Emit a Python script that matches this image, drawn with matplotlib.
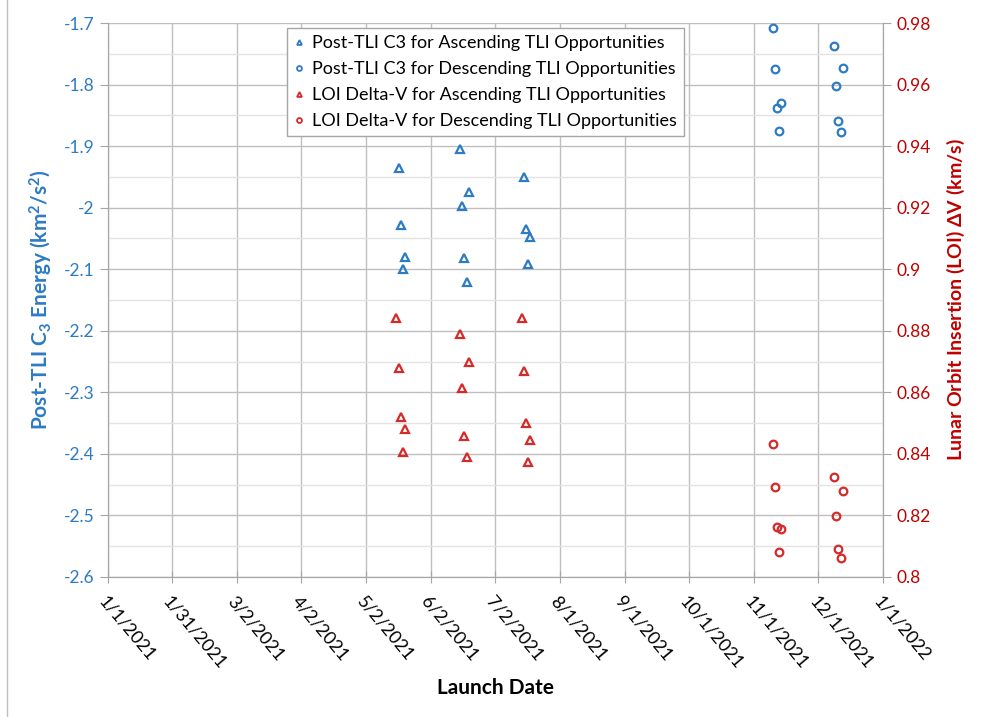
import numpy as np
import matplotlib
matplotlib.use('Agg')
import matplotlib.pyplot as plt
import matplotlib.dates as mdates
from matplotlib.lines import Line2D

plt.rcParams['font.family'] = ['Lato', 'DejaVu Sans']
plt.rcParams['mathtext.fontset'] = 'custom'
plt.rcParams['mathtext.rm'] = 'Lato'
plt.rcParams['mathtext.bf'] = 'Lato:bold'
plt.rcParams['mathtext.default'] = 'regular'

# launch dates (ascending / descending windows)
asc_dates_c3 = ['2021-05-18', '2021-05-19', '2021-05-20', '2021-05-21',
                '2021-06-16', '2021-06-17', '2021-06-18', '2021-06-19', '2021-06-20',
                '2021-07-16', '2021-07-17', '2021-07-18', '2021-07-19']
asc_c3 = [-1.936, -2.028, -2.099, -2.080,
          -1.905, -1.998, -2.081, -2.120, -1.975,
          -1.950, -2.034, -2.092, -2.048]

asc_dates_loi = ['2021-05-17', '2021-05-18', '2021-05-19', '2021-05-20', '2021-05-21',
                 '2021-06-16', '2021-06-17', '2021-06-18', '2021-06-19', '2021-06-20',
                 '2021-07-15', '2021-07-16', '2021-07-17', '2021-07-18', '2021-07-19']
asc_loi = [0.8841, 0.8678, 0.8521, 0.8405, 0.8481,
           0.8790, 0.8615, 0.8459, 0.8391, 0.8698,
           0.8843, 0.8670, 0.8499, 0.8373, 0.8445]

desc_dates = ['2021-11-10', '2021-11-11', '2021-11-12', '2021-11-13', '2021-11-14',
              '2021-12-09', '2021-12-10', '2021-12-11', '2021-12-12', '2021-12-13']
desc_c3 = [-1.708, -1.775, -1.838, -1.875, -1.830,
           -1.737, -1.803, -1.859, -1.877, -1.773]
desc_loi = [0.8431, 0.8293, 0.8163, 0.8080, 0.8157,
            0.8325, 0.8199, 0.8092, 0.8063, 0.8278]

tick_labels = ['1/1/2021', '1/31/2021', '3/2/2021', '4/2/2021', '5/2/2021',
               '6/2/2021', '7/2/2021', '8/1/2021', '9/1/2021', '10/1/2021',
               '11/1/2021', '12/1/2021', '1/1/2022']

blue = '#2E7BC4'
red = '#C00000'
mred = '#D42A2A'
grid_major = '#BFBFBF'
grid_minor = '#E3E3E3'


def to_num(ds):
    return mdates.date2num(np.array(ds, dtype='datetime64[D]'))


fig = plt.figure(figsize=(9.81, 7.17), dpi=100)
ax = fig.add_axes([0.1096, 0.1953, 0.7905, 0.7726])
ax2 = ax.twinx()

x0 = mdates.date2num(np.datetime64('2021-01-01'))
x1 = mdates.date2num(np.datetime64('2022-01-01'))
ax.set_xlim(x0, x1)
xt = x0 + np.arange(13) * (x1 - x0) / 12
ax.set_xticks(xt)
ax.set_xticklabels(tick_labels, rotation=-50, ha='left', va='top',
                   rotation_mode='anchor', fontsize=13)

ax.set_ylim(-2.6, -1.7)
ax.set_yticks(np.arange(-2.6, -1.65, 0.1))
ax.set_yticklabels(['-2.6', '-2.5', '-2.4', '-2.3', '-2.2', '-2.1', '-2', '-1.9', '-1.8', '-1.7'])
ax.set_yticks(np.arange(-2.55, -1.7, 0.1), minor=True)
ax2.set_ylim(0.8, 0.98)
ax2.set_yticks(np.arange(0.8, 0.981, 0.02))
ax2.set_yticklabels(['0.8', '0.82', '0.84', '0.86', '0.88', '0.9', '0.92', '0.94', '0.96', '0.98'])

ax.grid(True, which='major', color=grid_major, linewidth=1)
ax.grid(True, which='minor', axis='y', color=grid_minor, linewidth=1)
ax.set_axisbelow(True)

for a in (ax, ax2):
    a.spines['top'].set_visible(False)
    for s in ('left', 'right', 'bottom'):
        a.spines[s].set_color('#A6A6A6')
ax.tick_params(axis='y', which='major', colors=blue, labelsize=12.5, length=6, color='#A6A6A6')
ax.tick_params(axis='y', which='minor', length=0)
ax.tick_params(axis='x', direction='inout', length=8, color='#A6A6A6', labelsize=13, pad=8)
ax2.tick_params(axis='y', colors=red, labelsize=12.5, length=6, color='#A6A6A6')

ms = 5.5
ax.plot(to_num(asc_dates_c3), asc_c3, '^', ms=ms, mfc='none', mec=blue, mew=1.6, ls='none')
ax.plot(to_num(desc_dates), desc_c3, 'o', ms=ms, mfc='none', mec=blue, mew=1.6, ls='none')
ax2.plot(to_num(asc_dates_loi), asc_loi, '^', ms=ms, mfc='none', mec=mred, mew=1.6, ls='none')
ax2.plot(to_num(desc_dates), desc_loi, 'o', ms=ms, mfc='none', mec=mred, mew=1.6, ls='none')

ax.set_ylabel('Post-TLI C$_3$ Energy (km$^2$/s$^2$)', color=blue, fontsize=15,
              fontweight='bold', labelpad=6)
ax2.set_ylabel('Lunar Orbit Insertion (LOI) $\\Delta$V (km/s)', color=red, fontsize=14,
               fontweight='bold', labelpad=10)
ax.set_xlabel('Launch Date', fontsize=15, fontweight='bold', labelpad=4)

handles = [
    Line2D([], [], marker='^', ls='none', ms=3.5, mfc='none', mec=blue, mew=1.3),
    Line2D([], [], marker='o', ls='none', ms=3.5, mfc='none', mec=blue, mew=1.3),
    Line2D([], [], marker='^', ls='none', ms=3.5, mfc='none', mec=mred, mew=1.3),
    Line2D([], [], marker='o', ls='none', ms=3.5, mfc='none', mec=mred, mew=1.3),
]
labels = ['Post-TLI C3 for Ascending TLI Opportunities',
          'Post-TLI C3 for Descending TLI Opportunities',
          'LOI Delta-V for Ascending TLI Opportunities',
          'LOI Delta-V for Descending TLI Opportunities']
leg = ax2.legend(handles, labels, loc='upper left', bbox_to_anchor=(0.2315, 0.991),
                 borderaxespad=0, fontsize=13, frameon=True, fancybox=False,
                 framealpha=1, edgecolor='#A6A6A6', handlelength=0.5,
                 handletextpad=0.5, borderpad=0.4, labelspacing=0.55)
leg.get_frame().set_linewidth(1)

fig.add_artist(Line2D([0.007, 0.007], [0.0, 1.0], color='#BFBFBF', lw=1,
                      transform=fig.transFigure))

fig.savefig('out.png', dpi=100)
